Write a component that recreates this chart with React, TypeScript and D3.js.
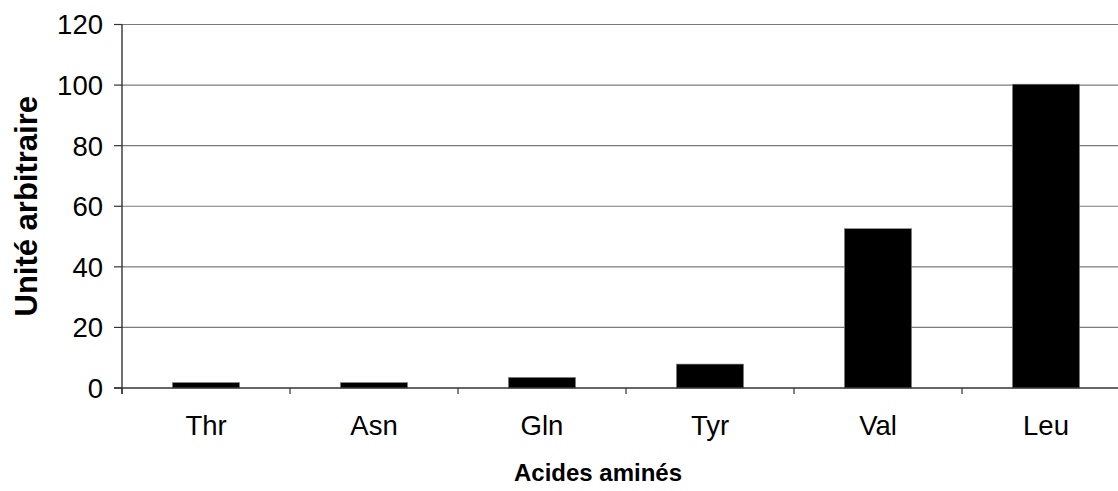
import React from "react"
import * as d3 from "d3"

const categories = ["Thr", "Asn", "Gln", "Tyr", "Val", "Leu"]
const values = [1.8, 1.8, 3.5, 7.9, 52.6, 100.3]
const yTicks = [0, 20, 40, 60, 80, 100, 120]

export default function App() {
  const width = 1118
  const height = 491
  const margin = { top: 24.5, left: 122, bottom: 388, right: 1130 }

  const x = d3.scaleBand<string>().domain(categories).range([margin.left, margin.right]).paddingInner(0.6).paddingOuter(0.3)
  const band = d3.scaleBand<string>().domain(categories).range([margin.left, margin.right])
  const y = d3.scaleLinear().domain([0, 120]).range([margin.bottom, margin.top])

  const font = "'Liberation Sans', Arial, sans-serif"
  // tick marks sit on the band edges, like in the spreadsheet original
  const edges = categories.map((c) => band(c) as number).concat([margin.right])

  return (
    <div style={{ position: "absolute", left: 0, top: 0 }}>
      <svg width={width} height={height} style={{ display: "block", background: "#fff" }} fontFamily={font}>
        {/* gridlines */}
        {yTicks.map((t) => (
          <g key={t}>
            {t > 0 && <line x1={margin.left} x2={margin.right} y1={y(t)} y2={y(t)} stroke="#7a7a7a" strokeWidth={1.2} />}
            <line x1={margin.left - 8} x2={margin.left} y1={y(t)} y2={y(t)} stroke="#333" strokeWidth={1.2} />
            <text x={103} y={y(t)} dy="0.36em" textAnchor="end" fontSize={27.5} fill="#000">
              {t}
            </text>
          </g>
        ))}

        {/* bars */}
        {categories.map((c, i) => (
          <rect
            key={c}
            x={x(c)}
            y={y(values[i])}
            width={x.bandwidth()}
            height={y(0) - y(values[i])}
            fill="#000"
            stroke="#888"
            strokeWidth={0.6}
          />
        ))}

        {/* axes */}
        <line x1={margin.left} x2={margin.left} y1={margin.top} y2={margin.bottom + 6} stroke="#333" strokeWidth={1.4} />
        <line x1={margin.left - 8} x2={margin.right} y1={margin.bottom} y2={margin.bottom} stroke="#333" strokeWidth={1.4} />
        {edges.map((e, i) => (
          <line key={i} x1={e} x2={e} y1={margin.bottom} y2={margin.bottom + 6} stroke="#333" strokeWidth={1.2} />
        ))}

        {categories.map((c) => (
          <text key={c} x={(x(c) as number) + x.bandwidth() / 2} y={435} textAnchor="middle" fontSize={27.5} fill="#000">
            {c}
          </text>
        ))}

        <text x={598} y={481} textAnchor="middle" fontSize={24} fontWeight="bold" fill="#000">
          Acides aminés
        </text>
        <text transform={`translate(37,${(margin.top + margin.bottom) / 2}) rotate(-90)`} textAnchor="middle" fontSize={31} fontWeight="bold" fill="#000">
          Unité arbitraire
        </text>
      </svg>
    </div>
  )
}
